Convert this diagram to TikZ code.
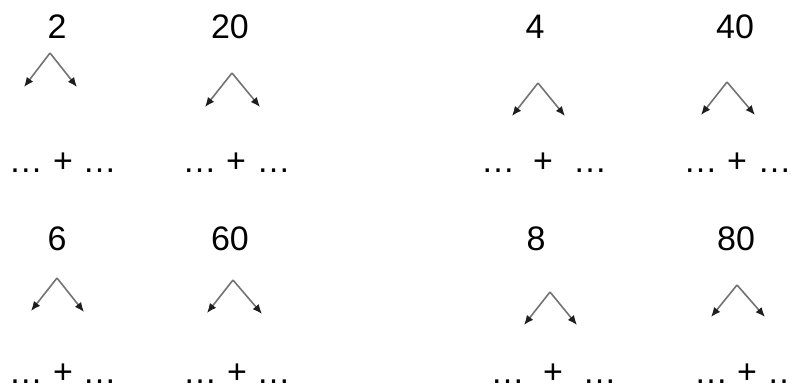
\documentclass[tikz,border=0pt]{standalone}
\usepackage{fontspec}
\setmainfont{Liberation Sans}
\usetikzlibrary{arrows.meta}
\definecolor{StemGray}{RGB}{115,115,115}
\definecolor{TipDark}{RGB}{30,30,30}
\tikzset{
  num/.style={anchor=base,inner sep=0pt,font=\fontsize{17}{20}\selectfont},
  gap/.style={anchor=base,inner sep=0pt,font=\fontsize{17}{20}\selectfont},
  split/.style={draw=StemGray,line width=0.8pt,-{Latex[length=4.8pt,width=4pt,TipDark]}},
}

\begin{document}
\begin{tikzpicture}[x=0.5pt,y=-0.5pt]
\useasboundingbox (0,0) rectangle (791,388);
% top row
\node[num] (n1) at (57,38) {2};
\coordinate (t1) at (50,53);
\coordinate (l1) at (24,87);
\coordinate (r1) at (77,87);
\draw[split] (t1)--(l1);
\draw[split] (t1)--(r1);
\node[gap] (dl1) at (26,172) {…};
\node[gap] (p1) at (63,172) {+};
\node[gap] (dr1) at (99.5,172) {…};

\node[num] (n2) at (230,38) {20};
\coordinate (t2) at (232,73);
\coordinate (l2) at (205,107);
\coordinate (r2) at (260,107);
\draw[split] (t2)--(l2);
\draw[split] (t2)--(r2);
\node[gap] (dl2) at (199.5,172) {…};
\node[gap] (p2) at (236,172) {+};
\node[gap] (dr2) at (273.5,172) {…};

\node[num] (n3) at (535,38) {4};
\coordinate (t3) at (538,83);
\coordinate (l3) at (512,116);
\coordinate (r3) at (565,116);
\draw[split] (t3)--(l3);
\draw[split] (t3)--(r3);
\node[gap] (dl3) at (498,172) {…};
\node[gap] (p3) at (543,172) {+};
\node[gap] (dr3) at (590,172) {…};

\node[num] (n4) at (735,38) {40};
\coordinate (t4) at (727,82);
\coordinate (l4) at (701,115);
\coordinate (r4) at (755,115);
\draw[split] (t4)--(l4);
\draw[split] (t4)--(r4);
\node[gap] (dl4) at (700.5,172) {…};
\node[gap] (p4) at (737,172) {+};
\node[gap] (dr4) at (774.5,172) {…};

% bottom row
\node[num] (n5) at (57,250) {6};
\coordinate (t5) at (57,278);
\coordinate (l5) at (31,311);
\coordinate (r5) at (84,312);
\draw[split] (t5)--(l5);
\draw[split] (t5)--(r5);
\node[gap] (dl5) at (26,383) {…};
\node[gap] (p5) at (63,383) {+};
\node[gap] (dr5) at (99.5,383) {…};

\node[num] (n6) at (230,250) {60};
\coordinate (t6) at (233,280);
\coordinate (l6) at (207,313);
\coordinate (r6) at (262,314);
\draw[split] (t6)--(l6);
\draw[split] (t6)--(r6);
\node[gap] (dl6) at (200,383) {…};
\node[gap] (p6) at (237,383) {+};
\node[gap] (dr6) at (273.5,383) {…};

\node[num] (n7) at (536,250) {8};
\coordinate (t7) at (550,292);
\coordinate (l7) at (524,325);
\coordinate (r7) at (577,325);
\draw[split] (t7)--(l7);
\draw[split] (t7)--(r7);
\node[gap] (dl7) at (507.5,383) {…};
\node[gap] (p7) at (553,383) {+};
\node[gap] (dr7) at (599.5,383) {…};

\node[num] (n8) at (736,250) {80};
\coordinate (t8) at (737,285);
\coordinate (l8) at (711,317);
\coordinate (r8) at (765,317);
\draw[split] (t8)--(l8);
\draw[split] (t8)--(r8);
\node[gap] (dl8) at (711,383) {…};
\node[gap] (p8) at (747,383) {+};
\node[gap] (dr8) at (784,383) {…};
\end{tikzpicture}
\end{document}
